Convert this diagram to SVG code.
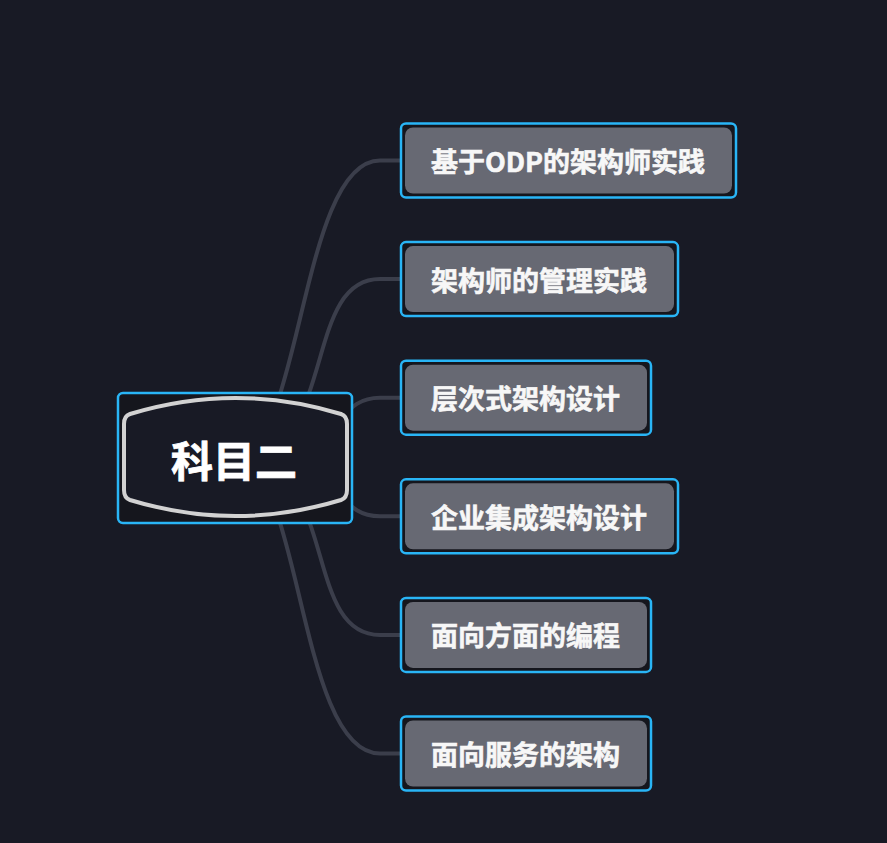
<svg xmlns="http://www.w3.org/2000/svg" width="887" height="843" viewBox="0 0 887 843">
  <style>
    .conn { fill: none; stroke: #3b3e4b; stroke-width: 4; stroke-linecap: round; }
    .sel { fill: #15161d; stroke: #29b5f6; stroke-width: 2.5; }
    .box { fill: #676973; }
    .label { font-family: "Noto Sans CJK SC", "Noto Sans", sans-serif; font-weight: 700; font-size: 27px; fill: #f7f7f7; stroke: #f7f7f7; stroke-width: 0.6; dominant-baseline: central; }
    .root-label { font-family: "Noto Sans CJK SC", "Noto Sans", sans-serif; font-weight: 700; font-size: 42px; fill: #ffffff; stroke: #ffffff; stroke-width: 0.8; dominant-baseline: central; text-anchor: middle; }
  </style>
  <rect x="0" y="0" width="887" height="843" fill="#181a25"/>

  <g id="connectors">
    <path class="conn" d="M 235,458 C 301,458 300,160.5 380,160.5 L 401,160.5"/>
    <path class="conn" d="M 235,458 C 340,458 300,279.1 380,279.1 L 401,279.1"/>
    <path class="conn" d="M 235,458 C 350,458 330,397.7 380,397.7 L 401,397.7"/>
    <path class="conn" d="M 235,458 C 350,458 330,516.3 380,516.3 L 401,516.3"/>
    <path class="conn" d="M 235,458 C 341,458 300,634.9 380,634.9 L 401,634.9"/>
    <path class="conn" d="M 235,458 C 301,458 298,753.5 380,753.5 L 401,753.5"/>
  </g>

  <g id="root">
    <rect class="sel" x="118" y="393" width="234" height="130" rx="5"/>
    <path d="M 130,414 Q 235.5,382 341,414 Q 347,416 347,424 L 347,490 Q 347,498 341,500 Q 235.5,532 130,500 Q 124,498 124,490 L 124,424 Q 124,416 130,414 Z" fill="#181a25" stroke="#d2d2d2" stroke-width="4"/>
    <text class="root-label" x="234" y="458">科目二</text>
  </g>

  <g id="node1">
    <rect class="sel" x="401" y="123.5" width="335" height="74" rx="5"/>
    <rect class="box" x="405" y="127.5" width="327" height="66" rx="8"/>
    <text class="label" x="431" y="160.5">基于ODP的架构师实践</text>
  </g>
  <g id="node2">
    <rect class="sel" x="401" y="242.1" width="277" height="74" rx="5"/>
    <rect class="box" x="405" y="246.1" width="269" height="66" rx="8"/>
    <text class="label" x="431" y="279.1">架构师的管理实践</text>
  </g>
  <g id="node3">
    <rect class="sel" x="401" y="360.7" width="250" height="74" rx="5"/>
    <rect class="box" x="405" y="364.7" width="242" height="66" rx="8"/>
    <text class="label" x="431" y="397.7">层次式架构设计</text>
  </g>
  <g id="node4">
    <rect class="sel" x="401" y="479.3" width="277" height="74" rx="5"/>
    <rect class="box" x="405" y="483.3" width="269" height="66" rx="8"/>
    <text class="label" x="431" y="516.3">企业集成架构设计</text>
  </g>
  <g id="node5">
    <rect class="sel" x="401" y="597.9" width="250" height="74" rx="5"/>
    <rect class="box" x="405" y="601.9" width="242" height="66" rx="8"/>
    <text class="label" x="431" y="634.9">面向方面的编程</text>
  </g>
  <g id="node6">
    <rect class="sel" x="401" y="716.5" width="250" height="74" rx="5"/>
    <rect class="box" x="405" y="720.5" width="242" height="66" rx="8"/>
    <text class="label" x="431" y="753.5">面向服务的架构</text>
  </g>
</svg>
